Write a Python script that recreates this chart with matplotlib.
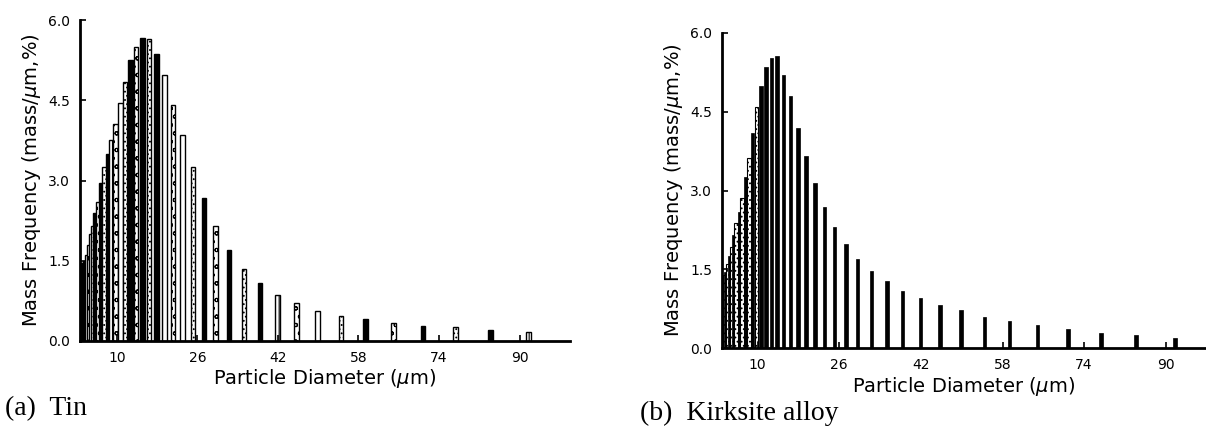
import matplotlib
matplotlib.use("Agg")
import matplotlib.pyplot as plt

# size classes (um)
diameters = [3.2, 3.5, 3.8, 4.1, 4.5, 4.9, 5.4, 5.8, 6.4, 6.9, 7.6, 8.3, 9.0, 9.8,
             10.7, 11.6, 12.7, 13.8, 15.1, 16.4, 17.9, 19.5, 21.2, 23.1, 25.1, 27.3,
             29.6, 32.3, 35.3, 38.4, 41.9, 45.7, 49.9, 54.5, 59.4, 64.9, 70.8, 77.3,
             84.2, 91.8]

# mass frequency (mass/um, %)
tin = [1.45, 1.46, 1.5, 1.6, 1.8, 2.0, 2.15, 2.4, 2.6, 2.95, 3.25, 3.5, 3.75, 4.05,
       4.45, 4.85, 5.25, 5.5, 5.66, 5.65, 5.36, 4.97, 4.42, 3.85, 3.26, 2.67,
       2.15, 1.70, 1.35, 1.08, 0.86, 0.71, 0.56, 0.46, 0.41, 0.33, 0.28, 0.26,
       0.21, 0.16]
kirksite = [1.3, 1.4, 1.45, 1.6, 1.75, 1.92, 2.15, 2.38, 2.6, 2.85, 3.25, 3.62, 4.09, 4.6,
            5.0, 5.35, 5.52, 5.56, 5.2, 4.8, 4.2, 3.66, 3.15, 2.69, 2.30, 1.98,
            1.70, 1.47, 1.27, 1.09, 0.95, 0.82, 0.72, 0.60, 0.52, 0.43, 0.36, 0.29,
            0.24, 0.19]

xticks = [10, 26, 42, 58, 74, 90]
yticks = [0, 1.5, 3.0, 4.5, 6.0]
ytick_labels = ["0.0", "1.5", "3.0", "4.5", "6.0"]

W, H = 1206, 437
fig = plt.figure(figsize=(W / 100, H / 100), dpi=100)
plt.rcParams["hatch.linewidth"] = 0.8

sans = "DejaVu Sans"
serif = "Liberation Serif"


def px_axes(left, right, bottom, top):
    return fig.add_axes([left / W, (H - bottom) / H, (right - left) / W, (bottom - top) / H])


def style_axes(ax, xlim):
    ax.set_xlim(*xlim)
    ax.set_ylim(0, 6.0)
    for s in ["top", "right"]:
        ax.spines[s].set_visible(False)
    ax.spines["left"].set_linewidth(2)
    ax.spines["bottom"].set_linewidth(2)
    ax.set_xticks(xticks)
    ax.set_xticklabels([str(t) for t in xticks], fontfamily=sans, fontsize=10)
    ax.set_yticks(yticks)
    ax.set_yticklabels(ytick_labels, fontfamily=sans, fontsize=10)
    ax.tick_params(axis="both", direction="in", length=4, width=1.2, pad=7)
    ax.set_xlabel("Particle Diameter ($\\mu$m)", fontfamily=sans, fontsize=14, labelpad=2)
    ax.set_ylabel("Mass Frequency (mass/$\\mu$m,%)", fontfamily=sans, fontsize=14, labelpad=4)


# (a) Tin - hatched outline bars
ax1 = px_axes(80, 570, 341, 20)
styles = [("black", ""), ("white", "...."), ("black", ""), ("white", "||"), ("white", "oo"),
          ("white", ""), ("white", "...."), ("black", ""), ("white", "oo")]
for i, (d, h) in enumerate(zip(diameters, tin)):
    fc, hatch = styles[i % len(styles)]
    ax1.bar(d, h, width=0.9, color=fc, edgecolor="black", linewidth=1.0, hatch=hatch)
style_axes(ax1, (2.7, 100))

# (b) Kirksite alloy - thin dark bars
ax2 = px_axes(722, 1206, 348, 33)
for i, (d, h) in enumerate(zip(diameters, kirksite)):
    if d < 10 and i % 2 == 1:
        ax2.bar(d, h, width=0.7, color="white", edgecolor="black", linewidth=0.8, hatch="....")
    else:
        ax2.bar(d, h, width=0.7, color="black", edgecolor="black", linewidth=0.5)
style_axes(ax2, (3, 97.9))

fig.text(5 / W, 1 - 409 / H, "(a)  Tin", fontfamily=serif, fontsize=20, va="center")
fig.text(640 / W, 1 - 413 / H, "(b)  Kirksite alloy", fontfamily=serif, fontsize=20, va="center")

fig.savefig("out.png", dpi=100)
